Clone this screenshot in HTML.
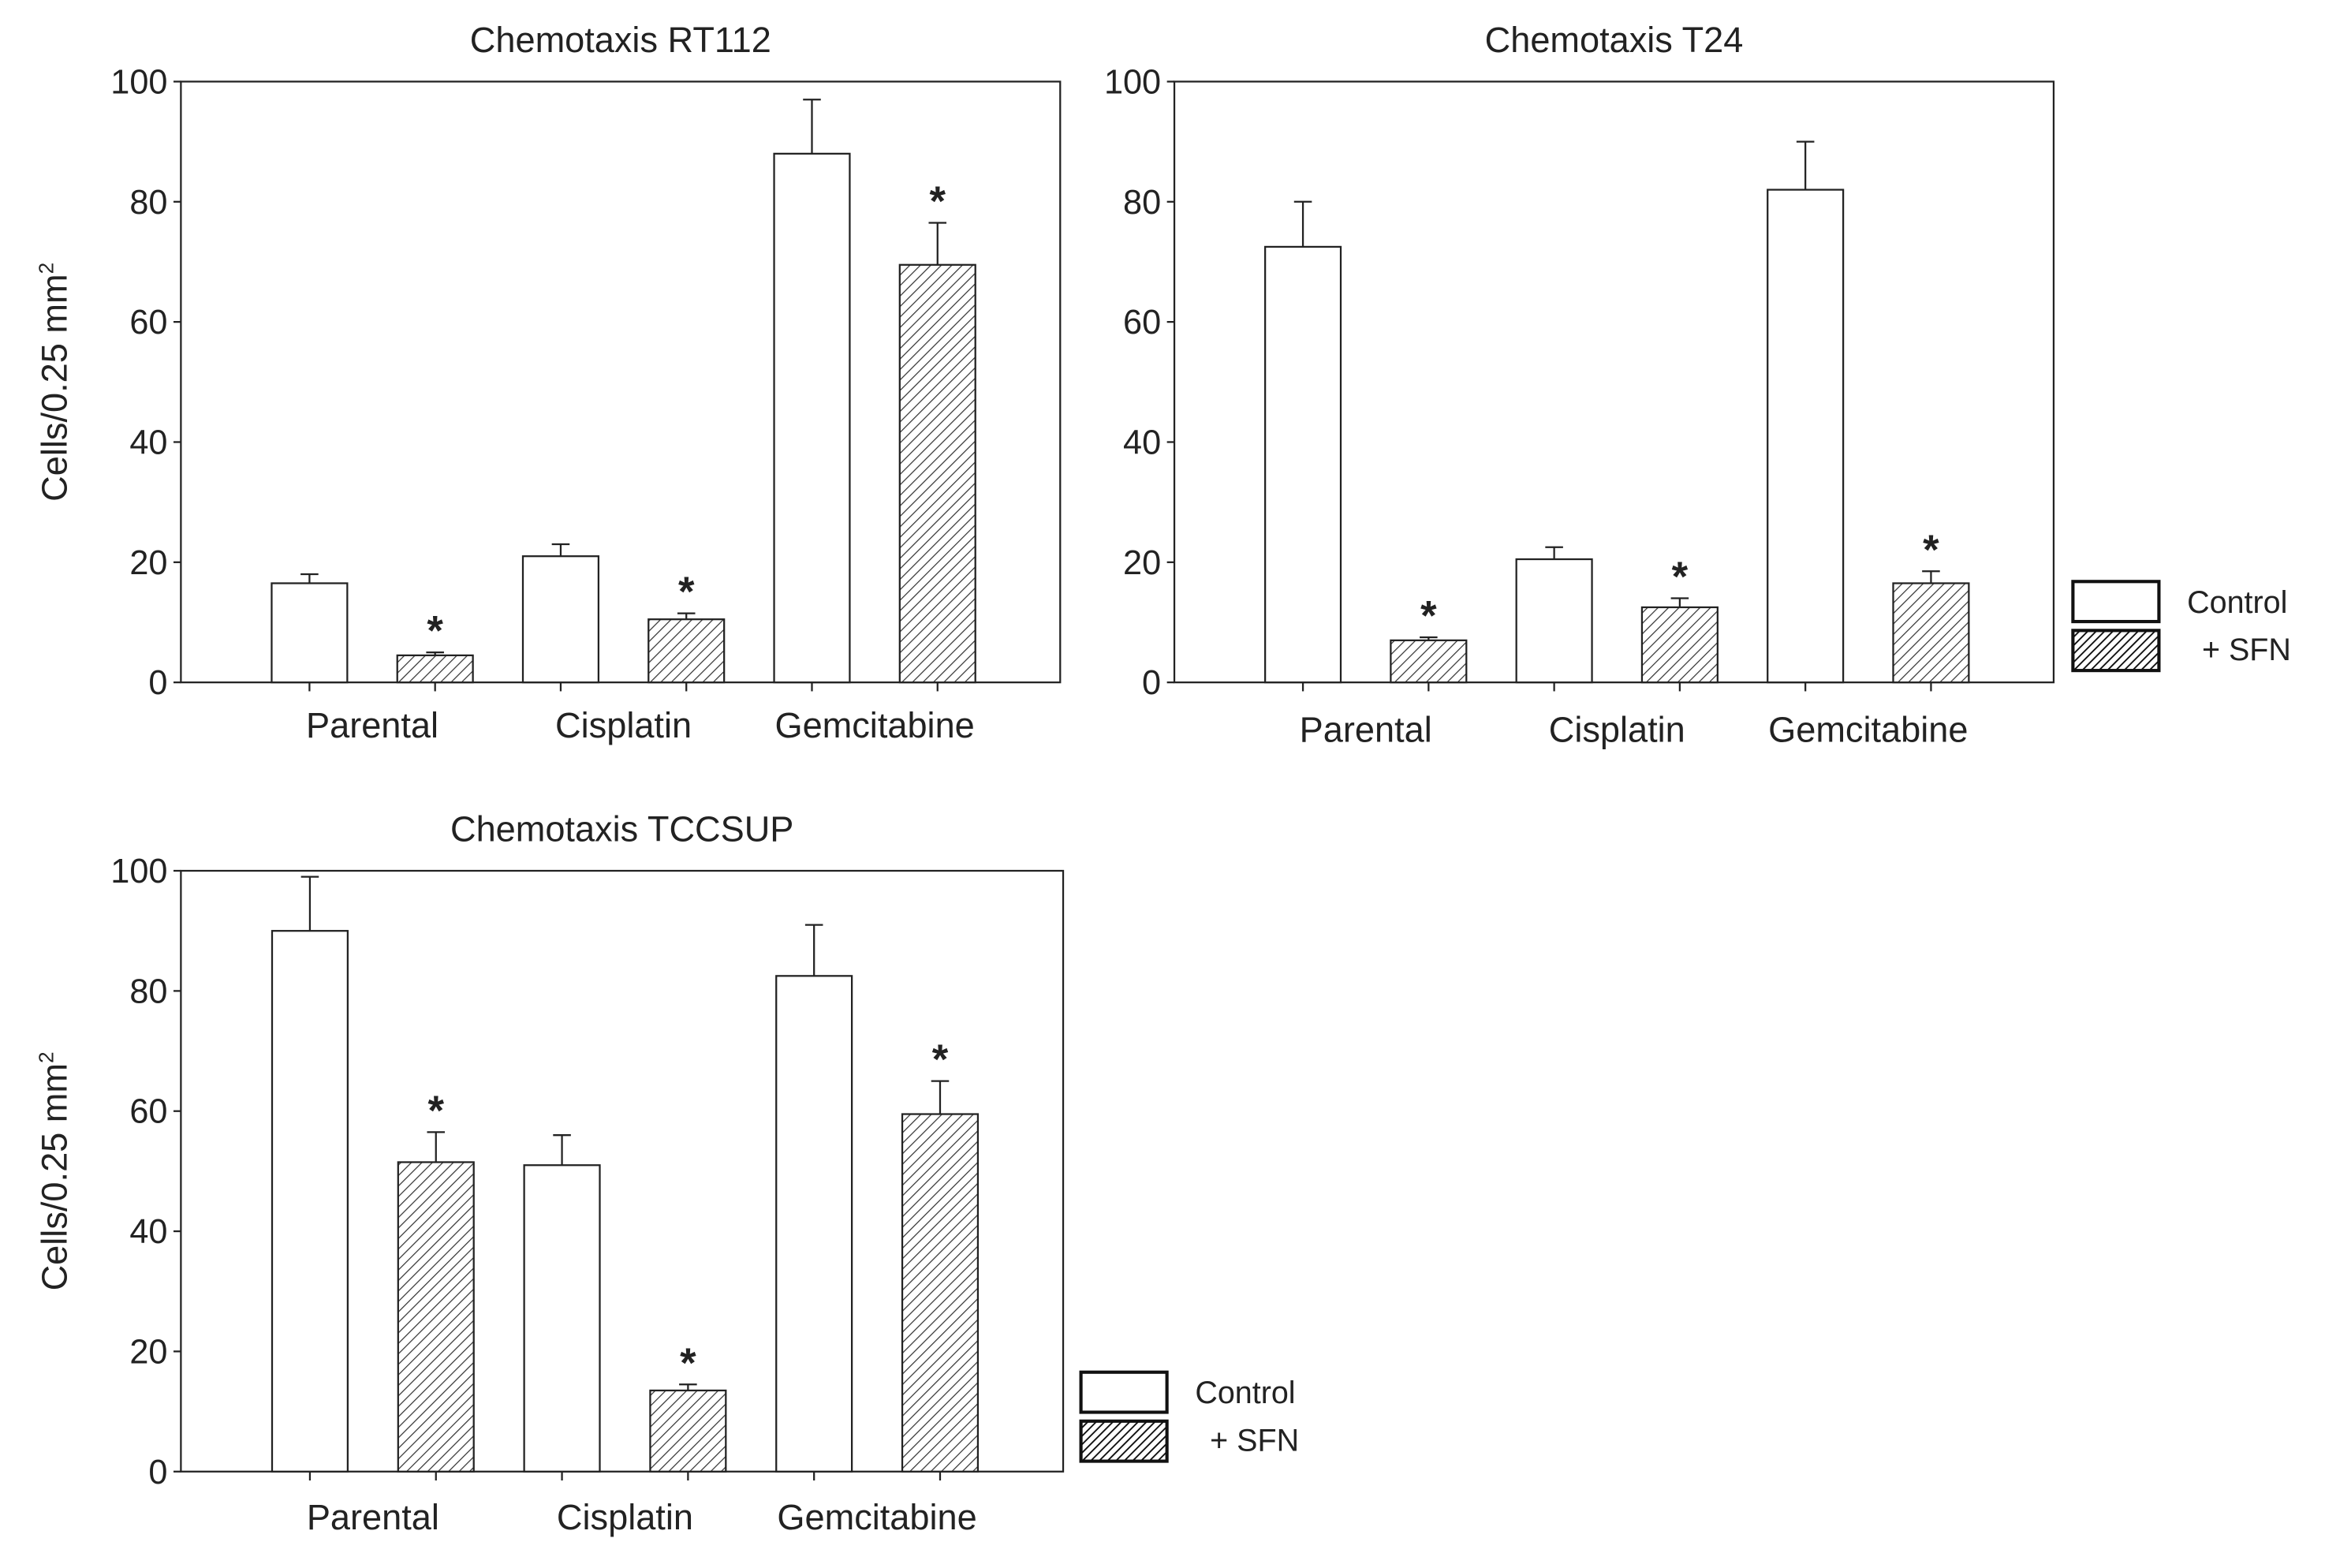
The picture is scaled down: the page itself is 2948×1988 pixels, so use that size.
<!DOCTYPE html>
<html><head><meta charset="utf-8">
<style>
html,body{margin:0;padding:0;background:#fff;}
svg{display:block;}
text{font-family:"Liberation Sans",sans-serif;fill:#222;}
</style></head>
<body>
<svg id="fig" width="2948" height="1988" viewBox="0 0 1568 1057" preserveAspectRatio="none" xmlns="http://www.w3.org/2000/svg">
<defs>
<pattern id="hatch" patternUnits="userSpaceOnUse" width="5" height="5" patternTransform="rotate(45)">
<rect width="5" height="5" fill="#fff"/><line x1="0" y1="0" x2="0" y2="5" stroke="#333" stroke-width="1.3"/>
</pattern>
<pattern id="hatchDark" patternUnits="userSpaceOnUse" width="4" height="4" patternTransform="rotate(45)">
<rect width="4" height="4" fill="#fff"/><line x1="0" y1="0" x2="0" y2="4" stroke="#111" stroke-width="2"/>
</pattern>
</defs>
</svg>
<script>
const groups = ["Parental","Cisplatin","Gemcitabine"];
const yTicks = [0,20,40,60,80,100];
const rt112Control = [16.5,21,88];
const rt112ControlErr = [18,23,97];
const rt112Sfn = [4.5,10.5,69.5];
const rt112SfnErr = [5,11.5,76.5];
const t24Control = [72.5,20.5,82];
const t24ControlErr = [80,22.5,90];
const t24Sfn = [7,12.5,16.5];
const t24SfnErr = [7.5,14,18.5];
const tccControl = [90,51,82.5];
const tccControlErr = [99,56,91];
const tccSfn = [51.5,13.5,59.5];
const tccSfnErr = [56.5,14.5,65];

const NS="http://www.w3.org/2000/svg";
const svg=document.getElementById('fig');
function mk(tag,attrs,parent){const e=document.createElementNS(NS,tag);for(const k in attrs)e.setAttribute(k,attrs[k]);(parent||svg).appendChild(e);return e;}

function panel(id,title,L,R,T,B,ctrl,ctrlE,sfn,sfnE,labelY,legend,showY){
  const g=mk('g',{});
  
  
  const yS=v=>B-(v/100)*(B-T);
  const step=(R-L)/7;
  const xS=i=>L+(i+1)*step+2;
  const bw=51;
  const t=mk('text',{x:(L+R)/2,y:T-20,'text-anchor':'middle','font-size':24},g);t.textContent=title;
  
  
  const frame=mk('rect',{x:L,y:T,width:R-L,height:B-T,fill:'none',stroke:'#222','stroke-width':1.2},g);
  
  
  yTicks.forEach(v=>{
    mk('line',{x1:L-5,x2:L,y1:yS(v),y2:yS(v),stroke:'#222','stroke-width':1.2},g);
    const tl=mk('text',{x:L-9,y:yS(v)+8,'text-anchor':'end','font-size':23},g);tl.textContent=v;
    
    
  });
  if(showY){
    const yl=mk('text',{x:0,y:0,'text-anchor':'middle','font-size':24,transform:`translate(${L-77},${(T+B)/2}) rotate(-90)`},g);
    yl.innerHTML='Cells/0.25 mm<tspan font-size="14" dy="-9">2</tspan>';
    
    
  }
  groups.forEach((name,gi)=>{
    [[ctrl,ctrlE,'#fff','control'],[sfn,sfnE,'url(#hatch)','sfn']].forEach((s,si)=>{
      const i=gi*2+si;const cx=xS(i);
      mk('line',{x1:cx,x2:cx,y1:B,y2:B+6,stroke:'#222','stroke-width':1.2},g);
      mk('line',{x1:cx,x2:cx,y1:yS(s[1][gi]),y2:yS(s[0][gi]),stroke:'#222','stroke-width':1.2},g);
      mk('line',{x1:cx-6,x2:cx+6,y1:yS(s[1][gi]),y2:yS(s[1][gi]),stroke:'#222','stroke-width':1.2},g);
      const b=mk('rect',{x:cx-bw/2,y:yS(s[0][gi]),width:bw,height:B-yS(s[0][gi]),fill:s[2],stroke:'#222','stroke-width':1.2},g);
      
      
      if(si===1){
        const st=mk('text',{x:cx,y:yS(s[1][gi])-5,'text-anchor':'middle','font-size':28,'font-weight':'bold'},g);st.textContent='*';
        
        
      }
    });
    const cl=mk('text',{x:(xS(gi*2)+xS(gi*2+1))/2,y:labelY,'text-anchor':'middle','font-size':24},g);cl.textContent=name;
    
    
  });
  if(legend){
    const lg=mk('g',{},g);
    
    
    const [lx,ly]=legend;
    mk('rect',{x:lx,y:ly,width:58,height:27,fill:'#fff',stroke:'#111','stroke-width':2.2},lg);
    mk('rect',{x:lx,y:ly+33,width:58,height:27,fill:'url(#hatchDark)',stroke:'#111','stroke-width':2.2},lg);
    const a=mk('text',{x:lx+77,y:ly+21,'font-size':21},lg);a.textContent='Control';
    
    
    const c=mk('text',{x:lx+87,y:ly+53,'font-size':21},lg);c.textContent='+ SFN';
    
    
  }
}
panel('rt112','Chemotaxis RT112',122,715,55,460,rt112Control,rt112ControlErr,rt112Sfn,rt112SfnErr,497,null,true);
panel('t24','Chemotaxis T24',792,1385,55,460,t24Control,t24ControlErr,t24Sfn,t24SfnErr,500,[1398,392],false);
panel('tccsup','Chemotaxis TCCSUP',122,717,587,992,tccControl,tccControlErr,tccSfn,tccSfnErr,1031,[729,925],true);
</script>
</body></html>
